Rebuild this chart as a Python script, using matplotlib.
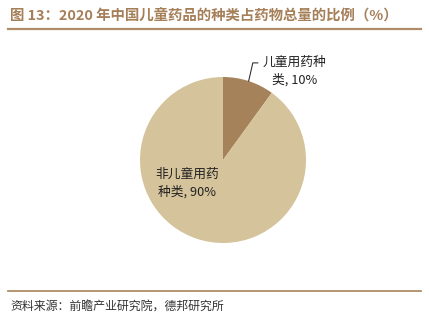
import matplotlib
matplotlib.use("Agg")
from matplotlib import pyplot as plt
import numpy as np

plt.rcParams['font.family'] = ['Noto Sans CJK SC', 'DejaVu Sans']

labels = ["儿童用药种\n类, 10%", "非儿童用药\n种类, 90%"]
shares = [10, 90]
colors = ["#a6825b", "#d5c39b"]

title = "图 13：2020 年中国儿童药品的种类占药物总量的比例（%）"
source = "资料来源：前瞻产业研究院，德邦研究所"
brown = "#a57f58"

W, H = 429, 326
fig = plt.figure(figsize=(W / 100, H / 100), dpi=100)

# pie axes: centre (223,160) px, radius 83 px
cx, cy, r = 223, 160, 83
ax = fig.add_axes([(cx - r) / W, (H - cy - r) / H, 2 * r / W, 2 * r / H])
wedges, _ = ax.pie(shares, colors=colors, startangle=90, counterclock=False,
                   radius=1, wedgeprops=dict(linewidth=0))
ax.set_xlim(-1, 1)
ax.set_ylim(-1, 1)
ax.set_aspect('auto')
ax.axis('off')

# small wedge: leader line from its outer edge
w = wedges[0]
ang = np.deg2rad((w.theta1 + w.theta2) / 2)
x0, y0 = np.cos(ang), np.sin(ang)
ax.plot([x0, x0 + 0.05, x0 + 0.11], [y0, 1.17, 1.17], color="#333333",
        lw=0.8, clip_on=False)
ax.text(0.86, 1.07, labels[0], ha='center', va='center', fontsize=9.2,
        color="#222222", linespacing=1.5, clip_on=False)

# big wedge label inside
ax.text(-0.435, -0.28, labels[1], ha='center', va='center', fontsize=9.2,
        color="#222222", linespacing=1.5)

fig.text(10 / W, 1 - 15.5 / H, title, fontsize=10.4, fontweight='bold',
         color=brown, ha='left', va='center')
fig.add_artist(plt.Line2D([8 / W, 421 / W], [1 - 29 / H, 1 - 29 / H],
                          color="#b08d68", lw=1.6))
fig.add_artist(plt.Line2D([8 / W, 421 / W], [1 - 291 / H, 1 - 291 / H],
                          color="#b08d68", lw=1.3))
fig.text(10 / W, 1 - 307 / H, source, fontsize=8.6, color="#333333",
         ha='left', va='center')

fig.savefig("out.png", dpi=100, facecolor="white")
